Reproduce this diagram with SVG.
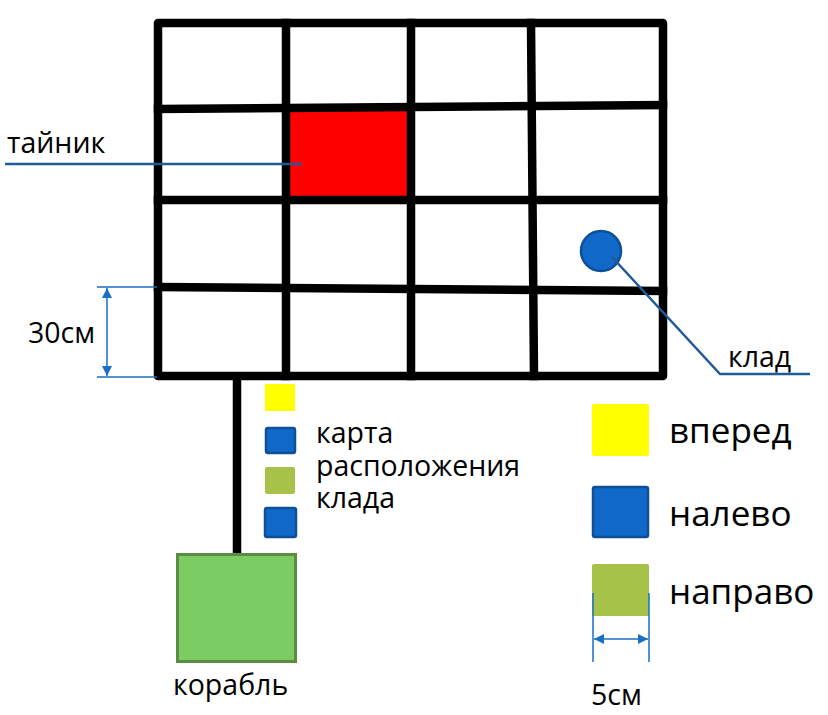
<svg xmlns="http://www.w3.org/2000/svg" width="828" height="715" viewBox="0 0 828 715">
<style>
text{font-family:"Open Sans","DejaVu Sans",sans-serif;fill:#000}
.g{stroke:#000;stroke-width:8.5;fill:none;stroke-linecap:square}
.lead{stroke:#1f5b96;stroke-width:2.5;fill:none}
.dim{stroke:#1a6fc4;stroke-width:1.5;fill:none}
.blue{fill:#1068c8;stroke:#0e4f95;stroke-width:2.5}
.yel{fill:#ffff00}
.olive{fill:#a6c249}
.s{font-size:28.5px}
.l{font-size:35px}
</style>
<defs>
<marker id="ah" viewBox="0 0 10 10" refX="10" refY="5" markerWidth="10" markerHeight="10" markerUnits="userSpaceOnUse" orient="auto-start-reverse">
<path d="M0,0 L10,5 L0,10 Z" fill="#1a6fc4"/>
</marker>
</defs>
<rect width="828" height="715" fill="#fff"/>
<g id="grid">
<rect x="290" y="111" width="118" height="85" fill="#ff0000"/>
<path class="g" d="M158,23 H663 V376 H158 Z" stroke-linejoin="round"/>
<line class="g" x1="158" y1="109" x2="663" y2="105"/>
<line class="g" x1="158" y1="200" x2="663" y2="200"/>
<line class="g" x1="158" y1="287" x2="663" y2="291"/>
<line class="g" x1="286" y1="23" x2="286" y2="376"/>
<line class="g" x1="411" y1="23" x2="411" y2="376"/>
<line class="g" x1="531" y1="23" x2="534" y2="376"/>
</g>
<g id="treasure">
<circle cx="601" cy="251" r="20" class="blue" stroke-width="2"/>
</g>
<g id="connectors">
<line class="lead" x1="5" y1="164" x2="302" y2="164"/>
<polyline class="lead" points="612,257 720,374 810,374"/>
<line class="g" x1="237" y1="380" x2="237" y2="553" stroke-linecap="butt"/>
</g>
<g id="dim30">
<line class="dim" x1="97" y1="287" x2="157" y2="287"/>
<line class="dim" x1="97" y1="377" x2="157" y2="377"/>
<line class="dim" x1="107" y1="288" x2="107" y2="376" marker-start="url(#ah)" marker-end="url(#ah)"/>
<text class="s" x="28" y="343">30см</text>
</g>
<g id="ship">
<rect x="177.5" y="554.5" width="118" height="107" fill="#7dcb63" stroke="#5b8c43" stroke-width="3"/>
<text class="s" x="173" y="695">корабль</text>
</g>
<g id="map-legend">
<rect x="265" y="384" width="30" height="27" class="yel"/>
<rect x="266" y="428" width="29" height="25" rx="2" class="blue"/>
<rect x="265" y="467" width="30" height="27" rx="2" class="olive"/>
<rect x="265" y="508" width="31" height="29" rx="2" class="blue"/>
<text class="s" x="316" y="443">карта</text>
<text class="s" x="316" y="476">расположения</text>
<text class="s" x="316" y="508">клада</text>
</g>
<g id="legend">
<rect x="592" y="404" width="57" height="52" rx="2" class="yel"/>
<rect x="593" y="487" width="55" height="50" rx="2" class="blue" stroke-width="3"/>
<rect x="592" y="564" width="57" height="52" rx="2" class="olive"/>
<text class="l" x="669" y="443">вперед</text>
<text class="l" x="669" y="526">налево</text>
<text class="l" x="669" y="604">направо</text>
</g>
<g id="dim5">
<line class="dim" x1="593" y1="593" x2="593" y2="662"/>
<line class="dim" x1="649" y1="593" x2="649" y2="662"/>
<line class="dim" x1="594" y1="639" x2="648" y2="639" marker-start="url(#ah)" marker-end="url(#ah)"/>
<text class="s" x="591" y="705">5см</text>
</g>
<text class="s" x="7" y="153">тайник</text>
<text class="s" x="728" y="367">клад</text>
</svg>
